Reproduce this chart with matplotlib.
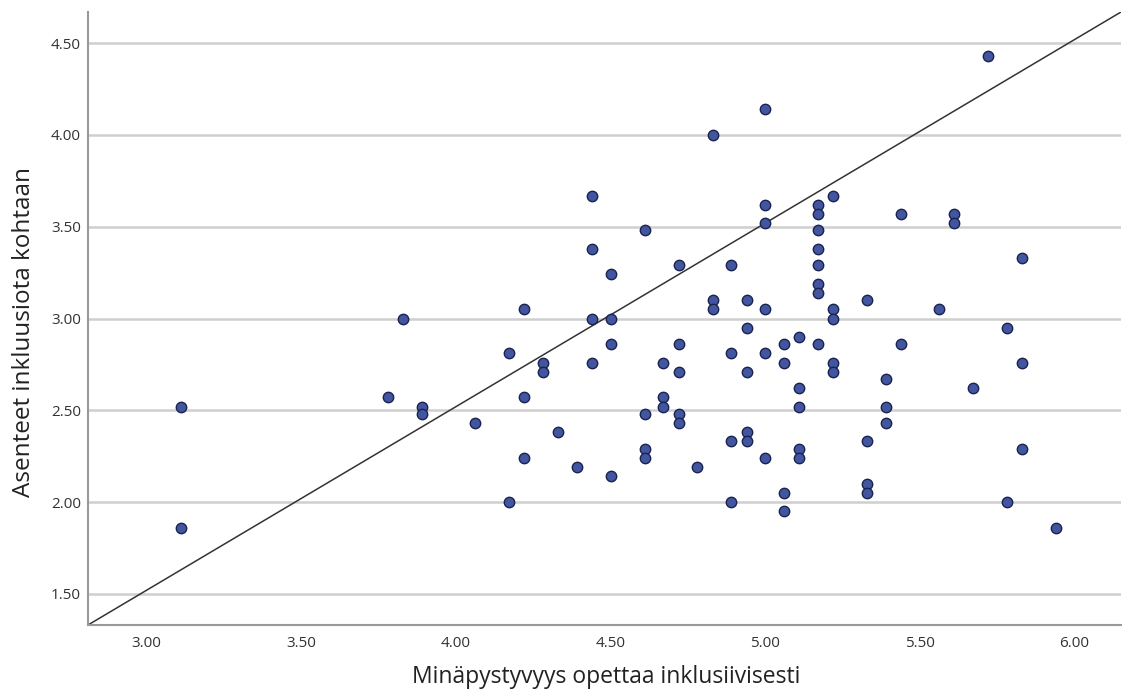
import matplotlib
matplotlib.use("Agg")
import matplotlib.pyplot as plt

plt.rcParams['font.family'] = ['Open Sans', 'DejaVu Sans']

x_vals = [3.11, 3.11, 3.78, 3.83, 3.89, 3.89, 4.06, 4.17, 4.17,
          4.22, 4.22, 4.22, 4.28, 4.28, 4.33, 4.39,
          4.44, 4.44, 4.44, 4.44, 4.50, 4.50, 4.50, 4.50,
          4.61, 4.61, 4.61, 4.61, 4.67, 4.67, 4.67,
          4.72, 4.72, 4.72, 4.72, 4.72, 4.78,
          4.83, 4.83, 4.83, 4.89, 4.89, 4.89, 4.89,
          4.94, 4.94, 4.94, 4.94, 4.94,
          5.00, 5.00, 5.00, 5.00, 5.00, 5.00,
          5.06, 5.06, 5.06, 5.06,
          5.11, 5.11, 5.11, 5.11, 5.11,
          5.17, 5.17, 5.17, 5.17, 5.17, 5.17, 5.17, 5.17,
          5.22, 5.22, 5.22, 5.22, 5.22,
          5.33, 5.33, 5.33, 5.33, 5.39, 5.39, 5.39,
          5.44, 5.44, 5.56, 5.61, 5.61, 5.67, 5.72,
          5.78, 5.78, 5.83, 5.83, 5.83, 5.94]
y_vals = [2.52, 1.86, 2.57, 3.00, 2.52, 2.48, 2.43, 2.81, 2.00,
          3.05, 2.57, 2.24, 2.76, 2.71, 2.38, 2.19,
          3.67, 3.38, 3.00, 2.76, 3.24, 3.00, 2.86, 2.14,
          3.48, 2.48, 2.29, 2.24, 2.76, 2.57, 2.52,
          3.29, 2.86, 2.71, 2.48, 2.43, 2.19,
          4.00, 3.10, 3.05, 3.29, 2.81, 2.33, 2.00,
          3.10, 2.95, 2.71, 2.38, 2.33,
          4.14, 3.62, 3.52, 3.05, 2.81, 2.24,
          2.86, 2.76, 2.05, 1.95,
          2.90, 2.62, 2.52, 2.29, 2.24,
          3.62, 3.57, 3.48, 3.38, 3.29, 3.19, 3.14, 2.86,
          3.67, 3.05, 3.00, 2.76, 2.71,
          3.10, 2.33, 2.10, 2.05, 2.67, 2.52, 2.43,
          3.57, 2.86, 3.05, 3.57, 3.52, 2.62, 4.43,
          2.95, 2.00, 3.33, 2.76, 2.29, 1.86]

x_ticks = [3.0, 3.5, 4.0, 4.5, 5.0, 5.5, 6.0]
y_ticks = [1.5, 2.0, 2.5, 3.0, 3.5, 4.0, 4.5]
x_label = "Minäpystyvyys opettaa inklusiivisesti"
y_label = "Asenteet inkluusiota kohtaan"

fig = plt.figure(figsize=(11.22, 6.91), dpi=100)
ax = fig.add_axes([88/1122, 1 - 625/691, (1121-88)/1122, (625-12)/691])

xmin, xmax = 2.81, 6.15
ymin, ymax = 1.33, 4.67
ax.set_xlim(xmin, xmax)
ax.set_ylim(ymin, ymax)

for yt in y_ticks:
    ax.axhline(yt, color='#cfcfcf', lw=1.8, zorder=1)

# reference line (diagonal of the plot area)
ax.plot([xmin, xmax], [ymin, ymax], color='#333333', lw=1.1, zorder=2)

ax.scatter(x_vals, y_vals, s=56, facecolor='#42559f', edgecolor='#1a2350',
           linewidth=1.0, zorder=3)

ax.set_xticks(x_ticks)
ax.set_xticklabels([f"{v:.2f}" for v in x_ticks])
ax.set_yticks(y_ticks)
ax.set_yticklabels([f"{v:.2f}" for v in y_ticks])
ax.tick_params(length=0, labelsize=11, colors='#333333')
ax.tick_params(axis='y', pad=5)
ax.tick_params(axis='x', pad=8)

for side in ['top', 'right']:
    ax.spines[side].set_visible(False)
for side in ['left', 'bottom']:
    ax.spines[side].set_color('#999999')
    ax.spines[side].set_linewidth(1.5)

ax.set_xlabel(x_label, fontsize=16.5, color='#222222')
ax.set_ylabel(y_label, fontsize=17.5, color='#222222')
ax.xaxis.set_label_coords(0.502, -(665 - 625) / 613, transform=ax.transAxes)
ax.yaxis.set_label_coords(-(88 - 36) / 1033, (625 - 332) / 613, transform=ax.transAxes)

fig.savefig("out.png", dpi=100)
